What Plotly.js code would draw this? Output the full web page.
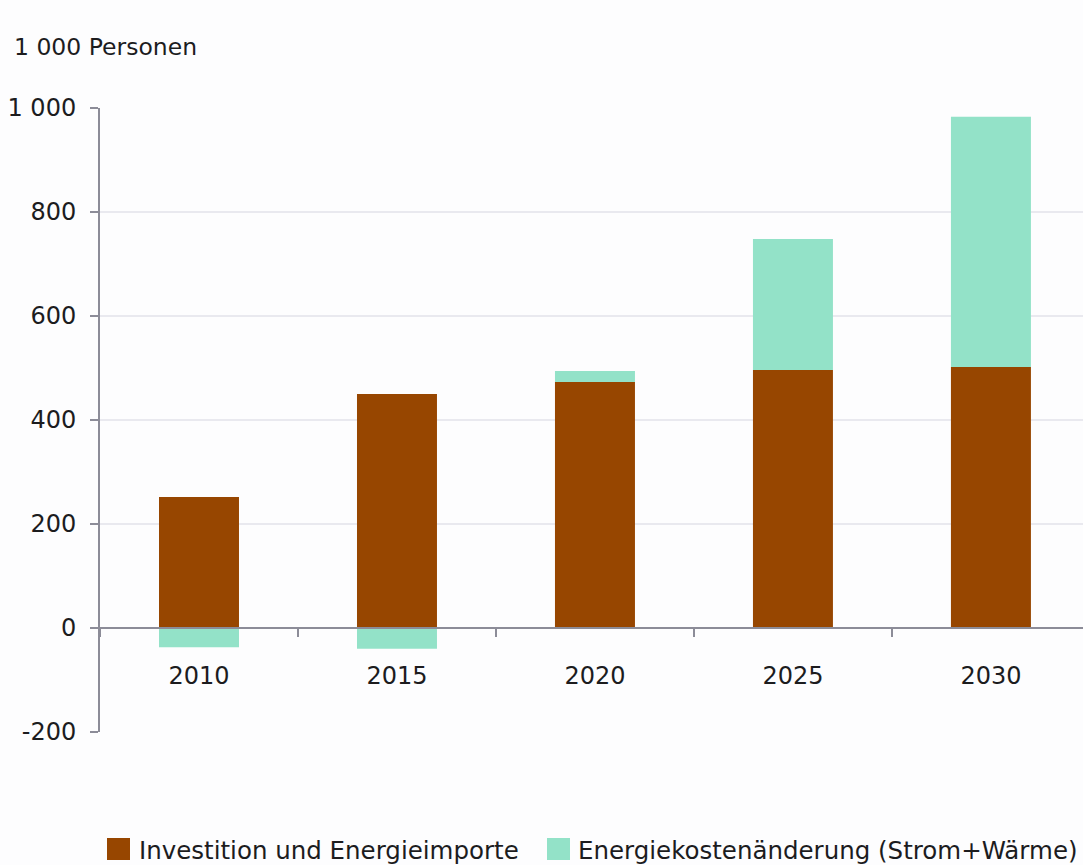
<!DOCTYPE html>
<html>
<head>
<meta charset="utf-8">
<script src="https://cdn.plot.ly/plotly-3.0.1.min.js"></script>
<style>html,body{margin:0;padding:0;background:#fdfdfe;}#chart{width:1083px;height:865px;}</style>
</head>
<body>
<div id="chart"></div>
<script>
const years = ["2010", "2015", "2020", "2025", "2030"];
const investition = [252, 450, 473, 496, 502];
const energiekosten = [-37, -40, 21, 252, 481];
const seriesNames = ["Investition und Energieimporte", "Energiekostenänderung (Strom+Wärme)"];
const seriesColors = ["#974600", "#93e2c8"];
const yTickVals = [-200, 0, 200, 400, 600, 800, 1000];
const yTickText = ["-200", "0", "200", "400", "600", "800", "1 000"];
const gridVals = [200, 400, 600, 800];
const unitLabel = "1 000 Personen";

const FONT = "DejaVu Sans, Liberation Sans, Arial, sans-serif";
const TXT = "#1c1c1e";
const AXIS = "#8c8c98";

// plot area in pixels: left 100, right 1083, top 108, bottom 732
const PL = 100, PW = 983, PB = 732, PH = 624;
const px = x => (x - PL) / PW;
const py = y => (PB - y) / PH;

const traces = [
  {type: "bar", name: seriesNames[0], x: years, y: investition,
   marker: {color: seriesColors[0], line: {width: 0}}, hoverinfo: "y"},
  {type: "bar", name: seriesNames[1], x: years, y: energiekosten,
   marker: {color: seriesColors[1], line: {width: 0}}, hoverinfo: "y"}
];

const shapes = gridVals.map(v => ({
  type: "line", xref: "paper", yref: "y", x0: 0, x1: 1, y0: v, y1: v,
  line: {color: "#e9e9ef", width: 2}, layer: "below"
}));

// manual legend (larger swatches than Plotly's built-in legend)
const legendItems = [
  {sq: [107, 130], text: 139},
  {sq: [547, 570], text: 578}
];
const annotations = [{text: unitLabel, xref: "paper", yref: "paper", x: px(12), y: py(47),
                 xanchor: "left", yanchor: "middle", showarrow: false,
                 font: {family: FONT, size: 23.5, color: TXT}}];
legendItems.forEach((it, i) => {
  shapes.push({type: "rect", xref: "paper", yref: "paper",
               x0: px(it.sq[0]), x1: px(it.sq[1]), y0: py(860), y1: py(838),
               fillcolor: seriesColors[i], line: {width: 0}});
  annotations.push({text: seriesNames[i], xref: "paper", yref: "paper",
                    x: px(it.text - 2), y: py(850), xanchor: "left", yanchor: "middle",
                    showarrow: false, font: {family: FONT, size: 24.5, color: TXT}});
});

const layout = {
  width: 1083, height: 865,
  margin: {l: 100, r: 0, t: 108, b: 133},
  paper_bgcolor: "#fdfdfe", plot_bgcolor: "#fdfdfe",
  barmode: "relative", bargap: 0.596,
  font: {family: FONT, size: 24, color: TXT},
  showlegend: false,
  xaxis: {type: "category", range: [-0.5, 4.465], anchor: "free", position: 1/6,
          showline: true, linecolor: AXIS, linewidth: 2,
          ticks: "outside", tickson: "boundaries", ticklen: 8, tickcolor: AXIS, tickwidth: 1.5,
          ticklabelstandoff: 26, tickfont: {family: FONT, size: 24, color: TXT},
          showgrid: false, zeroline: false, fixedrange: true},
  yaxis: {range: [-200, 1000], tickmode: "array", tickvals: yTickVals, ticktext: yTickText,
          showline: true, linecolor: AXIS, linewidth: 2,
          ticks: "outside", ticklen: 8, tickcolor: AXIS, tickwidth: 2,
          ticklabelstandoff: 9, tickfont: {family: FONT, size: 24, color: TXT},
          showgrid: false, zeroline: false, fixedrange: true},
  shapes: shapes,
  annotations: annotations
};

Plotly.newPlot("chart", traces, layout, {displayModeBar: false, staticPlot: true});
</script>
</body>
</html>
